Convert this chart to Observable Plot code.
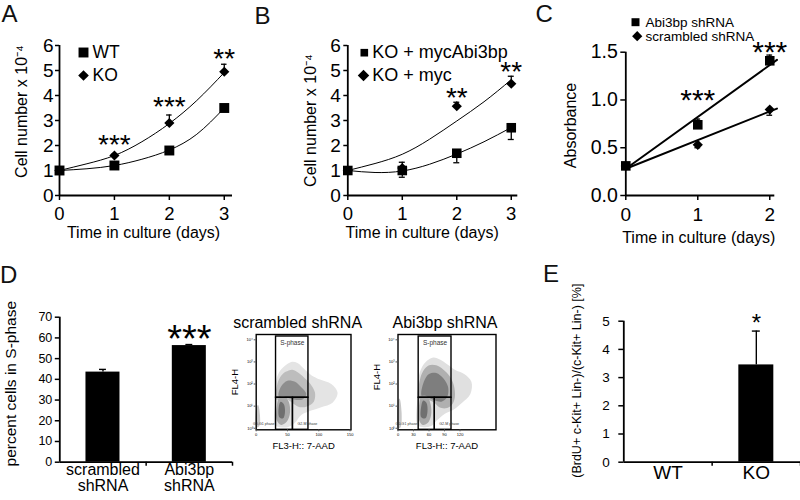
<!DOCTYPE html>
<html><head><meta charset="utf-8">
<script src="https://cdn.jsdelivr.net/npm/d3@7"></script>
<script src="https://cdn.jsdelivr.net/npm/@observablehq/plot@0.6"></script>
<style>
html,body{margin:0;padding:0;background:#fff;}
#root{position:relative;width:800px;height:500px;overflow:hidden;background:#fff;font-family:'Liberation Sans',Arial,sans-serif;}
.pl{position:absolute;}
.pl svg{overflow:visible;}
.letter{position:absolute;font-size:24px;line-height:1;color:#111;}
</style></head><body><div id="root"></div>
<script>
// ---------- Panel A ----------
const daysA = [0, 1, 2, 3];
const wtMean = [1.0, 1.2, 1.8, 3.5];
const wtErr = [0, 0.05, 0.06, 0.1];
const koMean = [1.0, 1.6, 2.9, 4.95];
const koErr = [0, 0.05, 0.32, 0.3];
const fitDaysA = [0, 0.5, 1, 1.5, 2, 2.5, 3];
const wtFit = [1.0, 1.07, 1.2, 1.45, 1.82, 2.45, 3.5];
const koFit = [1.0, 1.27, 1.6, 2.15, 2.88, 3.8, 4.92];
const starDaysA = [1, 2, 3];
const starValsA = [2.28, 3.8, 5.72];
const starTextA = ["***", "***", "**"];
const legendA = ["WT", "KO"];

// ---------- Panel B ----------
const daysB = [0, 1, 2, 3];
const rescueMean = [1.0, 1.0, 1.69, 2.71];
const rescueErr = [0, 0.27, 0.38, 0.47];
const mycMean = [1.0, 1.1, 3.57, 4.47];
const mycErr = [0, 0.23, 0.16, 0.3];
const fitDaysB = [0, 0.5, 1, 1.5, 2, 2.5, 3];
const rescueFit = [1.0, 0.92, 0.98, 1.25, 1.66, 2.15, 2.72];
const mycFit = [1.0, 1.28, 1.65, 2.25, 2.98, 3.75, 4.63];
const starDaysB = [2, 3];
const starValsB = [4.17, 5.2];
const starTextB = ["**", "**"];
const legendB = ["KO + mycAbi3bp", "KO + myc"];

// ---------- Panel C ----------
const daysC = [0, 1, 2];
const abiMean = [0.31, 0.74, 1.41];
const abiErr = [0, 0.06, 0.06];
const scrMean = [0.31, 0.53, 0.90];
const scrErr = [0, 0.03, 0.06];
const fitDaysC = [0, 2.1];
const abiFit = [0.28, 1.42];
const scrFit = [0.28, 0.91];
const starDaysC = [1, 2];
const starValsC = [1.07, 1.58];
const starTextC = ["***", "***"];
const legendC = ["Abi3bp shRNA", "scrambled shRNA"];

// ---------- Panel D ----------
const catsD = ["scrambled\nshRNA", "Abi3bp\nshRNA"];
const sPhase = [43.5, 56.3];
const sPhaseErr = [1.3, 0.5];
const starIdxD = [1];
const starValsD = [63.6];
const starTextD = ["***"];

// flow cytometry panels (x: FL3-H, e: log10 FL4-H)
const flowTitles = ["scrambled shRNA", "Abi3bp shRNA"];
const scrXTicks = [0, 50, 100, 150];
const abiXTicks = [0, 30, 60, 90, 120];
const scrGateX = [31.7, 58.7, 83.5];
const abiGateX = [40, 71.2, 103.5];
const gateE = [1.38, 4.15];
const scrCloudOuter = [[30,0.15],[30,1.2],[31,2.0],[36,2.5],[45,2.8],[56,3.0],[66,2.95],[76,2.7],[88,2.4],[102,2.2],[120,2.0],[130,1.6],[122,1.15],[104,0.95],[88,0.8],[72,0.6],[62,0.25],[50,0.05],[38,0.05]];
const scrCloudMid = [[32,1.3],[33,1.9],[38,2.3],[47,2.55],[58,2.65],[68,2.5],[78,2.25],[88,1.95],[94,1.6],[92,1.2],[82,1.0],[70,0.95],[60,1.1],[50,1.3],[42,1.35]];
const scrCloudDense = [[36,1.45],[40,1.9],[50,2.15],[62,2.1],[72,1.85],[80,1.55],[74,1.3],[60,1.3],[48,1.4]];
const scrG1Mid = [[33,0.35],[33,1.0],[37,1.4],[45,1.45],[52,1.2],[54,0.7],[49,0.3],[40,0.15]];
const scrG1Core = [[37,0.5],[36,0.95],[39,1.2],[44,1.1],[46,0.75],[43,0.45]];
const scrDebris = [[0.5,0.05],[0.5,0.95],[3,1.05],[6,0.6],[5,0.1]];
const abiCloudOuter = [[38,0.15],[38,1.5],[40,2.3],[46,2.75],[56,3.05],[68,3.2],[82,3.1],[95,2.9],[110,2.65],[128,2.45],[142,2.1],[140,1.55],[124,1.15],[108,0.85],[90,0.65],[75,0.35],[64,0.1],[50,0.05]];
const abiCloudMid = [[40,1.35],[42,2.15],[49,2.6],[60,2.85],[74,2.85],[88,2.65],[100,2.35],[108,1.95],[110,1.4],[104,1.05],[92,0.9],[80,0.95],[70,1.15],[58,1.3]];
const abiCloudDense = [[46,1.45],[50,2.1],[60,2.45],[74,2.5],[88,2.25],[97,1.85],[95,1.4],[84,1.2],[72,1.25],[60,1.38]];
const abiG1Mid = [[41,0.35],[41,1.1],[45,1.45],[56,1.45],[63,1.1],[64,0.6],[58,0.25],[48,0.15]];
const abiG1Core = [[45,0.5],[45,1.0],[49,1.25],[55,1.15],[57,0.75],[53,0.45]];
const abiDebris = [[0.5,0.0],[0.5,1.25],[3,1.35],[7,0.7],[5,0.05]];

// ---------- Panel E ----------
const catsE = ["WT", "KO"];
const brdu = [0, 3.45];
const brduErr = [0, 1.2];
const starIdxE = [1];
const starValsE = [5.15];
const starTextE = ["*"];

// ================= drawing =================
const FF = "'Liberation Sans', Arial, Helvetica, sans-serif";
const root = document.getElementById("root");
function place(svg, left, top) {
  const d = document.createElement("div");
  d.className = "pl"; d.style.left = left + "px"; d.style.top = top + "px";
  d.append(svg); root.append(d);
}
function mk(o) {
  return Plot.plot({...o, style: {fontFamily: FF, background: "transparent", overflow: "visible", color: "black"}});
}
function letter(t, left, top) {
  const d = document.createElement("div");
  d.className = "letter"; d.textContent = t;
  d.style.left = left + "px"; d.style.top = top + "px";
  root.append(d);
}
const MID = {textAnchor: "middle", lineAnchor: "middle"};

function linePanel(c) {
  const marks = [];
  marks.push(Plot.ruleX([c.xDomain[0]], {strokeWidth: 1.8}));
  marks.push(Plot.ruleY([c.yDomain[0]], {strokeWidth: 1.8}));
  marks.push(Plot.axisY({ticks: c.yTicks, tickFormat: c.yFmt, tickSize: c.yTickSize, tickPadding: c.yPad, fontSize: c.tickFont, strokeWidth: 1.5, label: null}));
  marks.push(Plot.axisX({ticks: c.xTicks, tickFormat: d => String(d), tickSize: 5, tickPadding: 6.5, fontSize: c.xTickFont, strokeWidth: 1.5, label: null}));
  for (const s of c.series) {
    const fit = s.fitX.map((x, i) => ({x, y: s.fitY[i]}));
    marks.push(Plot.line(fit, {x: "x", y: "y", curve: s.curve, stroke: "black", strokeWidth: c.fitW}));
  }
  for (const s of c.series) {
    const pts = c.x.map((x, i) => ({x, v: s.mean[i], e: s.err[i], end: s.mean[i] + s.dir * s.err[i]}));
    const eb = pts.filter(d => d.e > 0);
    marks.push(Plot.ruleX(eb, {x: "x", y1: "v", y2: "end", strokeWidth: 1.3}));
    marks.push(Plot.ruleY(eb, {y: "end", x1: d => d.x - c.cap, x2: d => d.x + c.cap, strokeWidth: 1.3}));
    marks.push(Plot.dot(pts, {x: "x", y: "v", symbol: s.symbol, r: s.r, fill: "black"}));
  }
  const stars = c.starX.map((x, i) => ({x, y: c.starY[i], t: c.starT[i]}));
  marks.push(Plot.text(stars, {x: "x", y: "y", text: "t", fontSize: c.starFont, dy: c.starFont * 0.25}));
  c.legend.forEach((name, j) => {
    const L = c.legendPos[j];
    marks.push(Plot.dot([name], {x: null, y: null, frameAnchor: "top-left", dx: L.sx, dy: L.dy, symbol: L.symbol, r: L.r, fill: "black"}));
    marks.push(Plot.text([name], {frameAnchor: "top-left", dx: L.tx, dy: L.dy, text: d => d, textAnchor: "start", lineAnchor: "middle", fontSize: c.legendFont}));
  });
  marks.push(Plot.text([c.ylabel], {...MID, frameAnchor: "left", rotate: -90, dx: c.yl[0], dy: c.yl[1], text: d => d, fontSize: c.labelFont}));
  marks.push(Plot.text([c.xlabel], {...MID, frameAnchor: "bottom", dx: c.xl[0], dy: c.xl[1], text: d => d, fontSize: c.labelFont}));
  place(mk({width: c.width, height: c.height, marginLeft: c.mL, marginRight: c.mR, marginTop: c.mT, marginBottom: c.mB,
    x: {domain: c.xDomain}, y: {domain: c.yDomain}, marks}), c.left, c.top);
}

const xlab = "Time in culture (days)";
linePanel({left: 0, top: 0, width: 260, height: 250, mL: 59, mR: 28, mT: 45, mB: 55,
  xDomain: [0, 3.15], yDomain: [0, 6], xTicks: daysA, yTicks: [0,1,2,3,4,5,6], yFmt: d => String(d),
  yTickSize: 4, yPad: 2, tickFont: 19, xTickFont: 18.5, fitW: 1, cap: 0.05, x: daysA,
  series: [
    {mean: wtMean, err: wtErr, dir: 1, symbol: "square", r: 5.6, fitX: fitDaysA, fitY: wtFit, curve: "natural"},
    {mean: koMean, err: koErr, dir: 1, symbol: "diamond2", r: 4.6, fitX: fitDaysA, fitY: koFit, curve: "natural"}
  ],
  starX: starDaysA, starY: starValsA, starT: starTextA, starFont: 28,
  legend: legendA, legendFont: 17.5,
  legendPos: [{symbol: "square", r: 5.6, sx: 24, tx: 33, dy: 7}, {symbol: "diamond2", r: 4.8, sx: 24, tx: 33, dy: 30}],
  ylabel: "Cell number x 10\u207B\u2074", yl: [-38, -9], xlabel: xlab, xl: [-2.5, 37], labelFont: 16});

linePanel({left: 260, top: 0, width: 270, height: 250, mL: 87.3, mR: 12.7, mT: 45, mB: 55,
  xDomain: [0, 3.12], yDomain: [0, 6], xTicks: daysB, yTicks: [0,1,2,3,4,5,6], yFmt: d => String(d),
  yTickSize: 4, yPad: 3, tickFont: 19, xTickFont: 18.5, fitW: 1, cap: 0.055, x: daysB,
  series: [
    {mean: rescueMean, err: rescueErr, dir: -1, symbol: "square", r: 5.4, fitX: fitDaysB, fitY: rescueFit, curve: "natural"},
    {mean: mycMean, err: mycErr, dir: 1, symbol: "diamond2", r: 4.6, fitX: fitDaysB, fitY: mycFit, curve: "natural"}
  ],
  starX: starDaysB, starY: starValsB, starT: starTextB, starFont: 28,
  legend: legendB, legendFont: 18,
  legendPos: [{symbol: "square", r: 4.3, sx: 16.5, tx: 24.4, dy: 7.2}, {symbol: "diamond2", r: 5.2, sx: 15.7, tx: 24.4, dy: 30}],
  ylabel: "Cell number x 10\u207B\u2074", yl: [-36.8, 0], xlabel: xlab, xl: [-10.6, 37], labelFont: 16});

linePanel({left: 520, top: 0, width: 280, height: 250, mL: 105.3, mR: 25.7, mT: 51.7, mB: 55,
  xDomain: [0, 2.07], yDomain: [0, 1.5], xTicks: daysC, yTicks: [0, 0.5, 1, 1.5], yFmt: d => d.toFixed(1),
  yTickSize: 5, yPad: 3, tickFont: 19.5, xTickFont: 19, fitW: 2, cap: 0.04, x: daysC,
  series: [
    {mean: abiMean, err: abiErr, dir: 1, symbol: "square", r: 5.4, fitX: fitDaysC, fitY: abiFit, curve: "linear"},
    {mean: scrMean, err: scrErr, dir: -1, symbol: "diamond2", r: 4.6, fitX: fitDaysC, fitY: scrFit, curve: "linear"}
  ],
  starX: starDaysC, starY: starValsC, starT: starTextC, starFont: 30,
  legend: legendC, legendFont: 13.5,
  legendPos: [{symbol: "square", r: 4.5, sx: 9.7, tx: 19.7, dy: -30}, {symbol: "diamond2", r: 4.6, sx: 11.4, tx: 19.7, dy: -16}],
  ylabel: "Absorbance", yl: [-55.3, 1.6], xlabel: xlab, xl: [-1.5, 42.5], labelFont: 16});

function barPanel(c) {
  const rows = c.cats.map((cat, i) => ({i, v: c.vals[i], e: c.errs[i]}));
  const eb = rows.filter(d => d.e > 0);
  const stars = c.starIdx.map((x, i) => ({x, y: c.starY[i], t: c.starT[i]}));
  const marks = [
    Plot.rectY(rows, {x1: d => d.i - c.half, x2: d => d.i + c.half, y1: d => 0, y2: "v", fill: "black"}),
    Plot.ruleX(eb, {x: "i", y1: "v", y2: d => d.v + d.e, strokeWidth: 1.4}),
    Plot.ruleY(eb, {y: d => d.v + d.e, x1: d => d.i - c.cap, x2: d => d.i + c.cap, strokeWidth: 1.4}),
    Plot.ruleX([-0.5], {strokeWidth: 1.8}),
    Plot.ruleY([0], {strokeWidth: 1.8}),
    Plot.axisY({ticks: c.yTicks, tickFormat: d => String(d), tickSize: c.yTickSize, tickPadding: c.yPad, fontSize: c.tickFont, strokeWidth: 1.5, label: null}),
    Plot.axisX({ticks: [0.5, 1.5], tickFormat: () => "", tickSize: 4, strokeWidth: 1.5, label: null}),
    Plot.axisX({ticks: [0, 1], tickFormat: i => c.cats[i], tickSize: 0, tickPadding: c.labPad, fontSize: c.labFont, label: null}),
    Plot.text(stars, {x: "x", y: "y", text: "t", fontSize: c.starFont, dy: c.starFont * 0.25}),
    Plot.text([c.ylabel], {...MID, frameAnchor: "left", rotate: -90, dx: c.yl[0], dy: c.yl[1], text: d => d, fontSize: c.ylabelFont})
  ];
  place(mk({width: c.width, height: c.height, marginLeft: c.mL, marginRight: c.mR, marginTop: c.mT, marginBottom: c.mB,
    x: {domain: [-0.5, 1.5]}, y: {domain: c.yDomain}, marks}), c.left, c.top);
}

barPanel({left: 0, top: 250, width: 240, height: 250, mL: 59.3, mR: 8, mT: 66.7, mB: 38.3,
  cats: catsD, vals: sPhase, errs: sPhaseErr, half: 0.197, cap: 0.04, yDomain: [0, 70],
  yTicks: [0,10,20,30,40,50,60,70], yTickSize: 4.5, yPad: 3, tickFont: 12.5, labPad: 1, labFont: 16,
  starIdx: starIdxD, starY: starValsD, starT: starTextD, starFont: 38,
  ylabel: "percent cells in S-phase", yl: [-49, -6], ylabelFont: 15.5});

barPanel({left: 560, top: 250, width: 240, height: 250, mL: 63.3, mR: 0, mT: 70.7, mB: 38.3,
  cats: catsE, vals: brdu, errs: brduErr, half: 0.198, cap: 0.045, yDomain: [0, 5],
  yTicks: [0,1,2,3,4,5], yTickSize: 5, yPad: 9, tickFont: 13.5, labPad: 3, labFont: 19,
  starIdx: starIdxE, starY: starValsE, starT: starTextE, starFont: 24,
  ylabel: "(BrdU+ c-Kit+ Lin-)/(c-Kit+ Lin-) [%]", yl: [-46.6, -11], ylabelFont: 12.5});

function flowPanel(c) {
  const sup = "\u2070\u00B9\u00B2\u00B3\u2074";
  const yLo = -0.07, yHi = 4.24;
  const marks = [];
  for (const L of c.layers) {
    marks.push(Plot.line(L.pts, {x: d => d[0], y: d => d[1], curve: "catmull-rom-closed", fill: L.fill, stroke: "none"}));
  }
  const gx = c.gateX;
  const gates = [
    {x1: gx[0], x2: gx[2], y1: gateE[0], y2: gateE[1]},
    {x1: gx[0], x2: gx[1], y1: yLo, y2: gateE[0]},
    {x1: gx[1], x2: gx[2], y1: yLo, y2: gateE[0]}
  ];
  marks.push(Plot.rect(gates, {x1: "x1", x2: "x2", y1: "y1", y2: "y2", fill: "none", stroke: "black", strokeWidth: 1.4}));
  marks.push(Plot.frame({stroke: "black", strokeWidth: 1.4}));
  marks.push(Plot.axisX({ticks: c.xTicks, tickSize: 2, tickPadding: 1.5, fontSize: 4, label: null, stroke: "#555"}));
  marks.push(Plot.axisY({ticks: [0,1,2,3,4], tickFormat: k => "10" + sup[k], tickSize: 2, tickPadding: 1.5, fontSize: 4, label: null, stroke: "#555"}));
  marks.push(Plot.text(["S-phase"], {x: d => (gx[0] + gx[2]) / 2, frameAnchor: "top", lineAnchor: "middle", dy: 8.5, text: d => d, fontSize: 6.5, fill: "#333"}));
  marks.push(Plot.text(["G0-G1 phase"], {x: d => gx[0], frameAnchor: "bottom", lineAnchor: "middle", dx: -1.5, dy: -5.5, text: d => d, textAnchor: "end", fontSize: 3.6, fill: "#333"}));
  marks.push(Plot.text(["G2-M phase"], {x: d => gx[1], frameAnchor: "bottom", lineAnchor: "middle", dx: 4.5, dy: -5.5, text: d => d, textAnchor: "start", fontSize: 3.6, fill: "#333"}));
  marks.push(Plot.text([c.title], {...MID, frameAnchor: "top", dx: c.titleDx, dy: -11.5, text: d => d, fontSize: 16}));
  marks.push(Plot.text(["FL4-H"], {...MID, frameAnchor: "left", rotate: -90, dx: -21, dy: c.fl4Dy, text: d => d, fontSize: 9.5}));
  marks.push(Plot.text(["FL3-H:: 7-AAD"], {...MID, frameAnchor: "bottom", dy: 15.7, text: d => d, fontSize: 9.5}));
  place(mk({width: 135, height: 150, marginLeft: c.mL, marginRight: c.mR, marginTop: 34, marginBottom: 20.7,
    x: {domain: c.xDomain}, y: {domain: [yLo, yHi]}, marks}), c.left, 300);
}

flowPanel({left: 225, mL: 30.7, mR: 9.5, xDomain: [0, 151.5], xTicks: scrXTicks, gateX: scrGateX,
  title: flowTitles[0], titleDx: -6, fl4Dy: 0,
  layers: [
    {pts: scrCloudOuter, fill: "#e4e4e4"}, {pts: scrDebris, fill: "#c8c8c8"},
    {pts: scrCloudMid, fill: "#bdbdbd"}, {pts: scrCloudDense, fill: "#8e8e8e"},
    {pts: scrG1Mid, fill: "#a8a8a8"}, {pts: scrG1Core, fill: "#707070"}
  ]});
flowPanel({left: 365, mL: 32.5, mR: 4.5, xDomain: [0, 189.6], xTicks: abiXTicks, gateX: abiGateX,
  title: flowTitles[1], titleDx: -2, fl4Dy: -5,
  layers: [
    {pts: abiCloudOuter, fill: "#e0e0e0"}, {pts: abiDebris, fill: "#c8c8c8"},
    {pts: abiCloudMid, fill: "#b0b0b0"}, {pts: abiCloudDense, fill: "#7e7e7e"},
    {pts: abiG1Mid, fill: "#a8a8a8"}, {pts: abiG1Core, fill: "#707070"}
  ]});

letter("A", 1.5, 2);
letter("B", 254.5, 3.5);
letter("C", 535.5, 2);
letter("D", 0, 263);
letter("E", 543, 262);
</script></body></html>
